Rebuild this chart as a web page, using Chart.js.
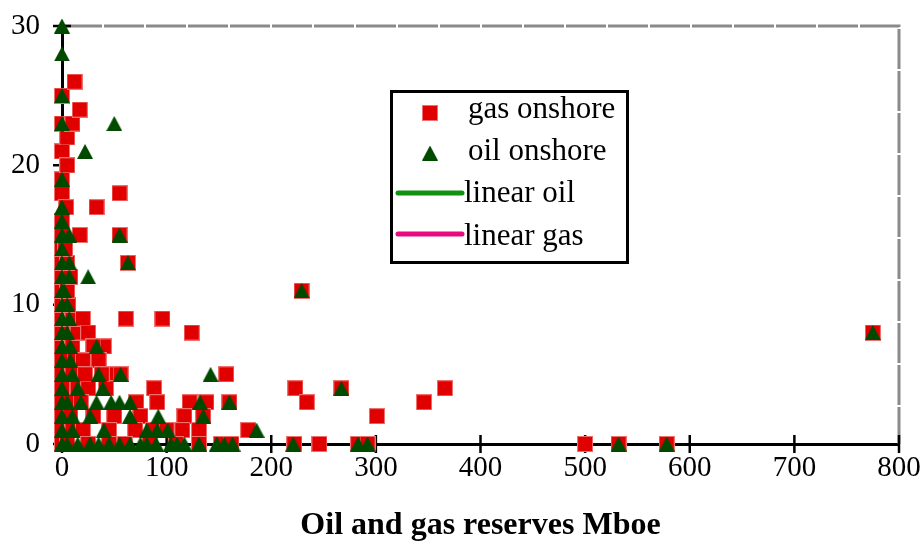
<!DOCTYPE html>
<html>
<head>
<meta charset="utf-8">
<script src="https://cdn.jsdelivr.net/npm/chart.js@4.4.0/dist/chart.umd.min.js"></script>
<style>
  html, body { margin: 0; padding: 0; background: #ffffff; }
  #wrap { width: 924px; height: 550px; position: relative; }
</style>
</head>
<body>
<div id="wrap"><canvas id="chart" width="924" height="550"></canvas></div>
<script>
// Gas onshore fields: reserves (Mboe) and matching values
const gasReserves = [
  0, 0, 0, 0, 0, 0, 0, 0, 0, 0, 0, 0, 0, 0, 0, 0, 0, 0, 0, 0, 0, 0, 0, 0,
  5, 10, 8, 12, 15, 10, 12, 10, 15, 10, 6, 5, 8, 5, 3, 17, 4, 5, 5, 10, 17, 12,
  20, 33, 55, 55, 63, 61, 96, 124, 40, 29, 48, 56, 157, 42, 25, 88, 223, 267, 366,
  25, 30, 20, 35, 22, 38,
  18, 71, 91, 122, 138, 160, 234, 346,
  30, 50, 75, 117, 135, 301,
  20, 45, 70, 87, 100, 115, 131, 178,
  25, 45, 60, 84, 109, 131, 152, 162, 222, 246, 283, 292, 500, 532, 578,
  229, 775
];
const gasValues = [
  -0.7, 0, 1, 2, 3, 4, 5, 6, 7, 8, 9, 10, 11, 12, 13, 14, 15, 16, 18, 19, 21, 23, 25, 31,
  0, 1, 2, 3, 4, 5, 6, 7, 8, 9, 10, 11, 12, 13, 14, 15, 17, 20, 22, 23, 24, 26,
  9, 17, 18, 15, 13, 9, 9, 8, 7, 6, 5, 5, 5, 4, 4, 4, 4, 4, 4,
  8, 7, 6, 6, 5, 5,
  3, 3, 3, 3, 3, 3, 3, 3,
  2, 2, 2, 2, 2, 2,
  1, 1, 1, 1, 1, 1, 1, 1,
  0, 0, 0, 0, 0, 0, 0, 0, 0, 0, 0, 0, 0, 0, 0,
  11, 8
];

// Oil onshore fields: reserves (Mboe) and matching values
const oilReserves = [
  0, 0, 0, 0, 0, 0, 0, 0, 0, 0, 0, 0, 0, 0, 0, 0, 0, 0, 0, 0, 0, 0, 0, 0,
  7, 7, 7, 2, 5, 7, 5, 8, 8, 10, 15, 5, 18, 10, 10, 5, 15,
  50, 22, 55, 63, 25, 33, 35, 56, 142, 39, 229, 267,
  33, 47, 55, 65, 132, 160,
  27, 65, 92, 135,
  40, 81, 91, 101, 186,
  27, 35, 45, 55, 65, 75, 81, 90, 104, 110, 117, 131, 148, 155, 163, 221, 283, 292, 532, 578,
  775
];
const oilValues = [
  -0.8, 0, 1, 2, 3, 4, 5, 6, 7, 8, 9, 10, 11, 12, 13, 14, 15, 16, 17, 19, 23, 25, 28, 30,
  15, 13, 12, 11, 10, 9, 8, 7, 6, 5, 4, 3, 3, 2, 1, 0, 0,
  23, 21, 15, 13, 12, 7, 5, 5, 5, 4, 11, 4,
  3, 3, 3, 3, 3, 3,
  2, 2, 2, 2,
  1, 1, 1, 1, 1,
  0, 0, 0, 0, 0, 0, 0, 0, 0, 0, 0, 0, 0, 0, 0, 0, 0, 0, 0, 0,
  8
];

const xTickStep = 100;
const yTickStep = 10;
const xAxisTitle = 'Oil and gas reserves Mboe';
const seriesNames = ['gas onshore', 'oil onshore', 'linear oil', 'linear gas'];

const RED = '#e00000';
const DARK_GREEN = '#004a00';
const LINE_GREEN = '#119111';
const LINE_PINK = '#ea0a7e';
const SERIF = '"Liberation Serif", "Times New Roman", serif';

function toPoints(xs, ys) {
  return xs.map((v, i) => ({ x: v, y: ys[i] }));
}

// marker bitmaps, drawn centred on each data point
function squareMarker(size) {
  const c = document.createElement('canvas');
  c.width = size; c.height = size;
  const g = c.getContext('2d');
  g.fillStyle = '#f07070';
  g.fillRect(0, 0, size, size);
  g.fillStyle = RED;
  g.fillRect(1, 1, size - 2, size - 2);
  return c;
}
function triangleMarker(w, h) {
  const c = document.createElement('canvas');
  c.width = w; c.height = h;
  const g = c.getContext('2d');
  g.fillStyle = DARK_GREEN;
  g.beginPath();
  g.moveTo(w / 2, 0);
  g.lineTo(w, h);
  g.lineTo(0, h);
  g.closePath();
  g.fill();
  return c;
}
const squareImg = squareMarker(16);
const triangleImg = triangleMarker(16, 15);

// plot frame (gray dashed top/right) and crossing tick marks on both axes
const frameAndTicks = {
  id: 'frameAndTicks',
  beforeDatasetsDraw(chart) {
    const { ctx, chartArea: a, scales: { x, y } } = chart;
    ctx.save();
    ctx.strokeStyle = '#8a8a8a';
    ctx.lineWidth = 3;
    ctx.setLineDash([40, 2]);
    ctx.beginPath();
    ctx.moveTo(a.left, a.top);
    ctx.lineTo(a.right, a.top);
    ctx.lineTo(a.right, a.bottom);
    ctx.stroke();
    ctx.setLineDash([]);
    ctx.strokeStyle = '#000';
    ctx.lineWidth = 2.5;
    ctx.beginPath();
    x.ticks.forEach(t => {
      const px = x.getPixelForValue(t.value);
      ctx.moveTo(px, a.bottom - 9);
      ctx.lineTo(px, a.bottom + 9);
    });
    y.ticks.forEach(t => {
      const py = y.getPixelForValue(t.value);
      ctx.moveTo(a.left - 9, py);
      ctx.lineTo(a.left + 9, py);
    });
    ctx.stroke();
    ctx.restore();
  }
};

// boxed legend inside the plot
const boxLegend = {
  id: 'boxLegend',
  afterDatasetsDraw(chart) {
    const { ctx } = chart;
    const box = { x: 391, y: 91, w: 236, h: 171 };
    ctx.save();
    ctx.fillStyle = '#fff';
    ctx.fillRect(box.x, box.y, box.w, box.h);
    ctx.strokeStyle = '#000';
    ctx.lineWidth = 3;
    ctx.strokeRect(box.x + 0.5, box.y + 0.5, box.w, box.h);
    ctx.font = '31px ' + SERIF;
    ctx.fillStyle = '#000';
    ctx.textBaseline = 'alphabetic';
    const baselines = [118, 160, 202, 245];
    const centers = [113, 153, 193, 234];
    chart.data.datasets.forEach((ds, i) => {
      const cy = centers[i];
      if (ds.pointStyle && typeof ds.pointStyle === 'object') {
        const img = ds.pointStyle;
        ctx.drawImage(img, 430 - img.width / 2, cy - img.height / 2);
      } else {
        ctx.strokeStyle = ds.borderColor;
        ctx.lineWidth = 5;
        ctx.lineCap = 'round';
        ctx.beginPath();
        ctx.moveTo(398, cy);
        ctx.lineTo(462, cy);
        ctx.stroke();
      }
      ctx.fillText(ds.label, i < 2 ? 468 : 464, baselines[i]);
    });
    ctx.restore();
  }
};

const clipBox = { left: 20, right: 20, top: 14, bottom: 20 };

new Chart(document.getElementById('chart'), {
  type: 'scatter',
  data: {
    datasets: [
      { label: seriesNames[0], data: toPoints(gasReserves, gasValues), pointStyle: squareImg, pointRadius: 8, clip: clipBox, order: 2 },
      { label: seriesNames[1], data: toPoints(oilReserves, oilValues), pointStyle: triangleImg, pointRadius: 8, clip: clipBox, order: 1 },
      { type: 'line', label: seriesNames[2], data: [], borderColor: LINE_GREEN, borderWidth: 5, pointRadius: 0 },
      { type: 'line', label: seriesNames[3], data: [], borderColor: LINE_PINK, borderWidth: 5, pointRadius: 0 }
    ]
  },
  options: {
    responsive: false,
    animation: false,
    devicePixelRatio: 1,
    layout: { padding: { top: 26, right: 25, left: 0, bottom: 0 } },
    plugins: { legend: { display: false }, tooltip: { enabled: false } },
    scales: {
      x: {
        type: 'linear',
        min: 0, max: 800,
        grid: { display: false },
        border: { display: true, color: '#000', width: 3 },
        ticks: { stepSize: xTickStep, color: '#000', font: { family: SERIF, size: 29 }, padding: -1, maxRotation: 0 },
        title: { display: true, text: xAxisTitle, color: '#000', font: { family: SERIF, size: 32, weight: 'bold' }, padding: { top: 9, bottom: 5 } },
        afterFit(scale) { scale.height = 106; scale.paddingLeft = 0; scale.paddingRight = 0; }
      },
      y: {
        min: 0, max: 30,
        grid: { display: false },
        border: { display: true, color: '#000', width: 3 },
        ticks: { stepSize: yTickStep, color: '#000', font: { family: SERIF, size: 29 }, padding: 14 },
        afterFit(scale) { scale.width = 62; scale.paddingTop = 0; scale.paddingBottom = 0; }
      }
    }
  },
  plugins: [frameAndTicks, boxLegend]
});
</script>
</body>
</html>
